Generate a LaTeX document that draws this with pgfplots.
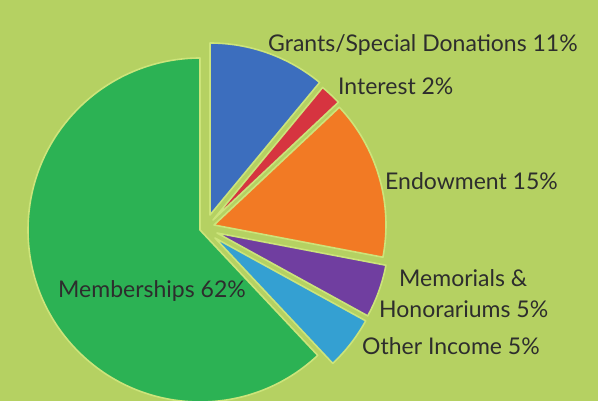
\documentclass[border=0pt]{standalone}
\usepackage{pgfplots}
\usepackage{pgfplotstable}
\pgfplotsset{compat=1.18}
\usepackage{fontspec}
\setmainfont{Lato}

\definecolor{bg}{RGB}{181,209,98}
\definecolor{gap}{RGB}{204,228,122}
\definecolor{txt}{RGB}{45,45,45}
\definecolor{c0}{RGB}{60,110,190}   % grants
\definecolor{c1}{RGB}{214,52,64}    % interest
\definecolor{c2}{RGB}{242,122,36}   % endowment
\definecolor{c3}{RGB}{112,62,160}   % memorials
\definecolor{c4}{RGB}{52,160,210}   % other income
\definecolor{c5}{RGB}{44,178,84}    % memberships

% share in percent, wedge tip in picture pixels (x right, y down)
\pgfplotstableread{
label       pct vx  vy
Grants      11  210 215
Interest    2   213 220
Endowment   15  214 225
Memorials   5   217 233
Other       5   215 238
Memberships 62  200 230
}\piedata

\begin{document}%
\def\acc{90}%
\foreach \i in {0,...,5}{%
  \pgfplotstablegetelem{\i}{pct}\of\piedata\let\p\pgfplotsretval
  \pgfmathsetmacro\e{\acc-3.6*\p}%
  \pgfplotstablegetelem{\i}{vx}\of\piedata
  \expandafter\xdef\csname vx\i\endcsname{\pgfplotsretval}%
  \pgfplotstablegetelem{\i}{vy}\of\piedata
  \expandafter\xdef\csname vy\i\endcsname{\pgfplotsretval}%
  \expandafter\xdef\csname sa\i\endcsname{\acc}%
  \expandafter\xdef\csname ea\i\endcsname{\e}%
  \xdef\acc{\e}%
}%
\begin{tikzpicture}
\begin{axis}[
    scale only axis,
    width=598pt, height=401pt,
    xmin=0, xmax=598, ymin=0, ymax=401,
    y dir=reverse,
    hide axis,
    clip=true,
]
\fill[bg] (axis cs:0,0) rectangle (axis cs:598,401);

\pgfplotsinvokeforeach{0,...,5}{
  \filldraw[fill=c#1, draw=gap, line width=1.6pt, line join=round]
    (axis cs:\csname vx#1\endcsname,\csname vy#1\endcsname)
    -- ++(\csname sa#1\endcsname:172pt)
    arc[start angle=\csname sa#1\endcsname, end angle=\csname ea#1\endcsname, radius=172pt]
    -- cycle;
}

\tikzset{lbl/.style={anchor=base west, text=txt, inner sep=0pt,
    font=\fontsize{23}{27}\selectfont}}
\node[lbl] at (axis cs:268,52)  {Grants/Special Donations 11\%};
\node[lbl] at (axis cs:338,95)  {Interest 2\%};
\node[lbl] at (axis cs:385,190) {Endowment 15\%};
\node[lbl] at (axis cs:399,287) {Memorials \&};
\node[lbl] at (axis cs:379,317) {Honorariums 5\%};
\node[lbl] at (axis cs:362,355) {Other Income 5\%};
\node[lbl] at (axis cs:58,298)  {Memberships 62\%};
\end{axis}
\end{tikzpicture}
\end{document}
